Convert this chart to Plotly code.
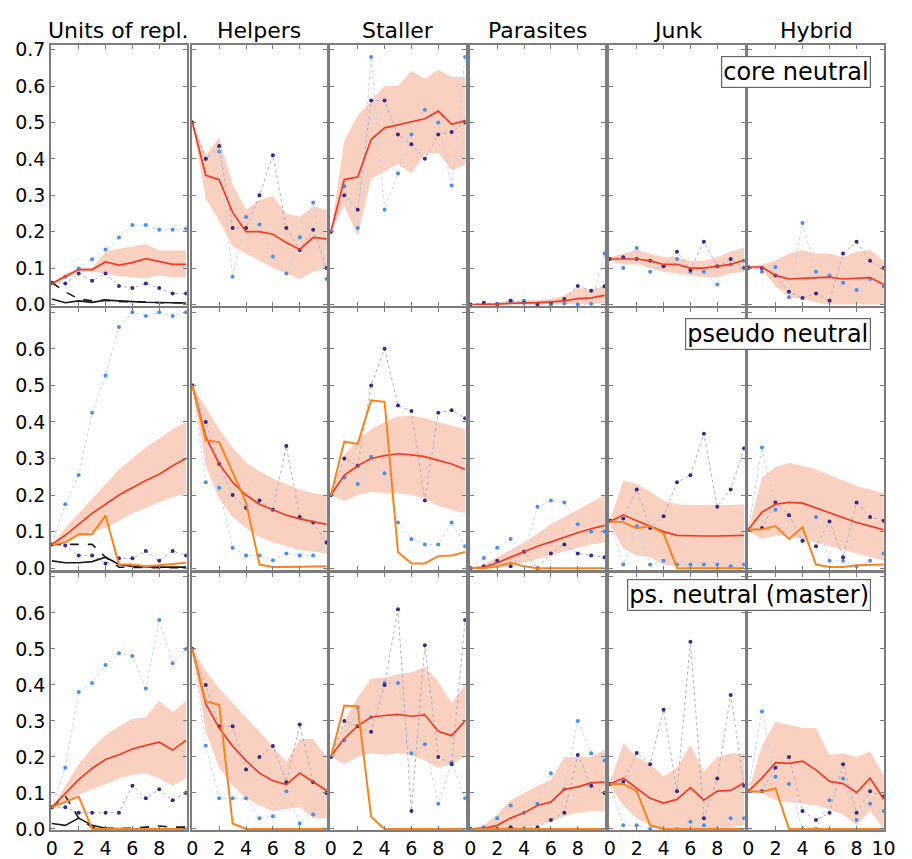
import plotly.graph_objects as go

X = list(range(11))
COLUMNS = ["Units of repl.", "Helpers", "Staller", "Parasites", "Junk", "Hybrid"]
ROW_LABELS = ["core neutral", "pseudo neutral", "ps. neutral (master)"]
Y_TICKS = [0.0, 0.1, 0.2, 0.3, 0.4, 0.5, 0.6, 0.7]
X_TICKS = [0, 2, 4, 6, 8, 10]

# ---------------- row 1: core neutral ----------------
CORE_MEAN = [
    [0.058, 0.076, 0.096, 0.096, 0.117, 0.108, 0.115, 0.126, 0.118, 0.11, 0.11],
    [0.5, 0.355, 0.343, 0.253, 0.2, 0.2, 0.193, 0.17, 0.151, 0.184, 0.18],
    [0.2, 0.343, 0.35, 0.453, 0.485, 0.494, 0.503, 0.51, 0.531, 0.495, 0.505],
    [0, 0, 0.001, 0.003, 0.003, 0.005, 0.007, 0.01, 0.016, 0.018, 0.025],
    [0.125, 0.125, 0.125, 0.12, 0.11, 0.11, 0.1, 0.1, 0.105, 0.11, 0.122],
    [0.103, 0.103, 0.08, 0.07, 0.072, 0.073, 0.075, 0.07, 0.073, 0.074, 0.055],
]
CORE_HI = [
    [0.06, 0.085, 0.1, 0.1, 0.144, 0.153, 0.159, 0.166, 0.148, 0.148, 0.148],
    [0.5, 0.41, 0.458, 0.33, 0.26, 0.287, 0.298, 0.25, 0.24, 0.27, 0.26],
    [0.2, 0.45, 0.52, 0.56, 0.6, 0.6, 0.642, 0.62, 0.645, 0.625, 0.625],
    [0, 0.003, 0.005, 0.01, 0.01, 0.012, 0.015, 0.025, 0.045, 0.04, 0.05],
    [0.13, 0.14, 0.15, 0.14, 0.13, 0.13, 0.12, 0.12, 0.13, 0.145, 0.157],
    [0.105, 0.11, 0.12, 0.14, 0.15, 0.14, 0.14, 0.13, 0.145, 0.15, 0.12],
]
CORE_LO = [
    [0.055, 0.07, 0.09, 0.09, 0.085, 0.078, 0.075, 0.072, 0.08, 0.075, 0.074],
    [0.5, 0.29, 0.23, 0.16, 0.14, 0.12, 0.1, 0.085, 0.07, 0.09, 0.1],
    [0.2, 0.27, 0.188, 0.345, 0.365, 0.386, 0.36, 0.413, 0.417, 0.368, 0.384],
    [0, 0, 0, 0, 0, 0, 0, 0, 0.002, 0, 0.005],
    [0.12, 0.11, 0.11, 0.1, 0.09, 0.085, 0.08, 0.075, 0.075, 0.085, 0.09],
    [0.1, 0.095, 0.05, 0.02, 0.015, 0.005, 0, 0, 0, 0, 0],
]
CORE_LIGHT = [
    [0.06, 0.076, 0.099, 0.124, 0.151, 0.184, 0.218, 0.218, 0.205, 0.205, 0.208],
    [0.5, 0.4, 0.42, 0.076, 0.24, 0.22, 0.132, 0.085, 0.185, 0.28, 0.07],
    [0.2, 0.325, 0.21, 0.68, 0.26, 0.36, 0.467, 0.535, 0.5, 0.327, 0.68],
    [0, 0.003, 0.002, 0.01, 0.01, 0.003, 0, 0.003, 0, 0.002, 0.14],
    [0.125, 0.1, 0.155, 0.09, 0.105, 0.125, 0.09, 0.09, 0.055, 0.11, 0.12],
    [0.103, 0.09, 0.103, 0.02, 0.224, 0.09, 0.08, 0.06, 0.04, 0.07, 0.05],
]
CORE_DARK = [
    [0.06, 0.058, 0.085, 0.065, 0.085, 0.051, 0.045, 0.058, 0.045, 0.03, 0.03],
    [0.5, 0.4, 0.435, 0.21, 0.21, 0.3, 0.41, 0.21, 0.15, 0.205, 0.1],
    [0.2, 0.3, 0.26, 0.56, 0.56, 0.467, 0.44, 0.4, 0.467, 0.474, 0.5],
    [0, 0.005, 0, 0.01, 0.005, 0, 0.005, 0.015, 0.051, 0.038, 0.05],
    [0.125, 0.13, 0.125, 0.12, 0.105, 0.145, 0.095, 0.172, 0.105, 0.125, 0.1],
    [0.1, 0.1, 0.08, 0.035, 0.018, 0.03, 0.01, 0.14, 0.172, 0.12, 0.1],
]
CORE_ORANGE = None
CORE_BLACK_SOLID = [0.015, 0.005, 0.01, 0.006, 0.012, 0.009, 0.008, 0.006, 0.005, 0.004, 0.004]
CORE_BLACK_DASH = [0.06, 0.035, 0.015, 0.01, 0.012, 0.008, 0.008, 0.006, 0.005, 0.005, 0.005]

# ---------------- row 2: pseudo neutral ----------------
PSEUDO_MEAN = [
    [0.065, 0.09, 0.12, 0.15, 0.175, 0.2, 0.22, 0.24, 0.257, 0.28, 0.3],
    [0.5, 0.36, 0.285, 0.235, 0.2, 0.175, 0.16, 0.145, 0.135, 0.127, 0.12],
    [0.2, 0.254, 0.28, 0.3, 0.308, 0.313, 0.31, 0.305, 0.295, 0.285, 0.27],
    [0, 0.002, 0.015, 0.03, 0.045, 0.06, 0.072, 0.085, 0.097, 0.108, 0.117],
    [0.128, 0.146, 0.13, 0.115, 0.1, 0.09, 0.088, 0.088, 0.088, 0.088, 0.09],
    [0.106, 0.153, 0.175, 0.18, 0.178, 0.165, 0.15, 0.138, 0.125, 0.115, 0.105],
]
PSEUDO_HI = [
    [0.065, 0.11, 0.15, 0.19, 0.23, 0.27, 0.3, 0.33, 0.355, 0.38, 0.4],
    [0.5, 0.44, 0.38, 0.33, 0.29, 0.265, 0.245, 0.23, 0.215, 0.205, 0.2],
    [0.2, 0.31, 0.35, 0.38, 0.4, 0.415, 0.417, 0.41, 0.4, 0.39, 0.38],
    [0, 0.01, 0.03, 0.05, 0.07, 0.095, 0.12, 0.14, 0.16, 0.18, 0.2],
    [0.13, 0.24, 0.23, 0.21, 0.185, 0.175, 0.172, 0.172, 0.172, 0.173, 0.175],
    [0.105, 0.248, 0.277, 0.288, 0.28, 0.27, 0.255, 0.24, 0.225, 0.215, 0.205],
]
PSEUDO_LO = [
    [0.065, 0.07, 0.085, 0.1, 0.11, 0.13, 0.15, 0.165, 0.18, 0.195, 0.205],
    [0.5, 0.28, 0.19, 0.14, 0.11, 0.085, 0.07, 0.06, 0.05, 0.045, 0.04],
    [0.2, 0.184, 0.2, 0.21, 0.205, 0.205, 0.2, 0.19, 0.17, 0.16, 0.15],
    [0, 0, 0, 0.005, 0.015, 0.025, 0.035, 0.045, 0.055, 0.065, 0.07],
    [0.12, 0.053, 0.035, 0.03, 0.01, 0.005, 0, 0, 0, 0, 0],
    [0.1, 0.08, 0.09, 0.085, 0.08, 0.07, 0.06, 0.05, 0.04, 0.03, 0.02],
]
PSEUDO_LIGHT = [
    [0.065, 0.175, 0.255, 0.425, 0.527, 0.66, 0.7, 0.69, 0.7, 0.69, 0.7],
    [0.5, 0.235, 0.22, 0.056, 0.035, 0.035, 0.022, 0.04, 0.035, 0.035, 0.07],
    [0.2, 0.248, 0.23, 0.305, 0.26, 0.125, 0.08, 0.065, 0.065, 0.125, 0.06],
    [0, 0.028, 0.056, 0.08, 0.045, 0.168, 0.185, 0.18, 0.12, 0.1, 0.1],
    [0.13, 0.01, 0.115, 0.01, 0.02, 0.01, 0.01, 0.01, 0.01, 0.005, 0.01],
    [0.105, 0.33, 0.16, 0.145, 0.075, 0.14, 0.02, 0.02, 0.005, 0.02, 0.04],
]
PSEUDO_DARK = [
    [0.065, 0.062, 0.035, 0.035, 0.013, 0.027, 0.027, 0.047, 0.02, 0.047, 0.035],
    [0.5, 0.4, 0.285, 0.2, 0.165, 0.185, 0.16, 0.334, 0.14, 0.125, 0.07],
    [0.2, 0.3, 0.28, 0.5, 0.6, 0.445, 0.43, 0.185, 0.425, 0.432, 0.41],
    [0, 0.005, 0.02, 0.005, 0.045, 0, 0.04, 0.065, 0.04, 0.035, 0.03],
    [0.13, 0.136, 0.215, 0.11, 0.142, 0.235, 0.254, 0.368, 0.168, 0.215, 0.328],
    [0.105, 0.11, 0.18, 0.145, 0.075, 0.06, 0.128, 0.03, 0.18, 0.14, 0.13],
]
PSEUDO_ORANGE = [
    [0.065, 0.07, 0.093, 0.093, 0.144, 0.01, 0.01, 0.005, 0.008, 0.012, 0.015],
    [0.5, 0.35, 0.345, 0.26, 0.18, 0.01, 0.003, 0.003, 0.003, 0.003, 0.005],
    [0.2, 0.346, 0.34, 0.459, 0.455, 0.044, 0.013, 0.013, 0.033, 0.035, 0.044],
    [0, 0, 0.005, 0.015, 0.005, 0, 0, 0, 0, 0, 0],
    [0.128, 0.126, 0.109, 0.115, 0.095, 0, 0, 0, 0, 0, 0],
    [0.106, 0.106, 0.115, 0.08, 0.112, 0.01, 0.003, 0.003, 0.008, 0.01, 0.01],
]
PSEUDO_BLACK_SOLID = [0.02, 0.015, 0.015, 0.018, 0.03, 0.01, 0.005, 0.003, 0.003, 0.003, 0.003]
PSEUDO_BLACK_DASH = [0.065, 0.065, 0.065, 0.065, 0.03, 0.003, 0.002, 0.001, 0.001, 0.001, 0.001]

# ---------------- row 3: ps. neutral (master) ----------------
MASTER_MEAN = [
    [0.06, 0.1, 0.137, 0.168, 0.193, 0.206, 0.222, 0.232, 0.241, 0.219, 0.246],
    [0.5, 0.347, 0.28, 0.23, 0.19, 0.155, 0.134, 0.123, 0.155, 0.132, 0.107],
    [0.202, 0.251, 0.286, 0.311, 0.315, 0.318, 0.313, 0.317, 0.271, 0.259, 0.3],
    [0, 0.002, 0.01, 0.03, 0.045, 0.065, 0.075, 0.11, 0.117, 0.128, 0.13],
    [0.125, 0.141, 0.113, 0.085, 0.072, 0.082, 0.115, 0.08, 0.105, 0.107, 0.128],
    [0.105, 0.141, 0.184, 0.182, 0.188, 0.164, 0.132, 0.126, 0.101, 0.141, 0.083],
]
MASTER_HI = [
    [0.06, 0.12, 0.18, 0.225, 0.26, 0.285, 0.305, 0.31, 0.356, 0.325, 0.355],
    [0.5, 0.44, 0.39, 0.35, 0.31, 0.27, 0.23, 0.185, 0.25, 0.25, 0.2],
    [0.2, 0.3, 0.365, 0.418, 0.42, 0.43, 0.435, 0.45, 0.41, 0.35, 0.4],
    [0, 0.01, 0.04, 0.08, 0.1, 0.12, 0.135, 0.2, 0.2, 0.2, 0.22],
    [0.13, 0.238, 0.2, 0.18, 0.146, 0.17, 0.233, 0.16, 0.2, 0.21, 0.21],
    [0.105, 0.23, 0.298, 0.29, 0.28, 0.28, 0.205, 0.21, 0.2, 0.215, 0.15],
]
MASTER_LO = [
    [0.06, 0.075, 0.095, 0.11, 0.125, 0.14, 0.15, 0.155, 0.14, 0.12, 0.14],
    [0.5, 0.27, 0.17, 0.12, 0.085, 0.065, 0.05, 0.055, 0.06, 0.03, 0.03],
    [0.2, 0.18, 0.2, 0.21, 0.205, 0.21, 0.205, 0.19, 0.17, 0.18, 0.2],
    [0, 0, 0, 0, 0, 0.01, 0.02, 0.035, 0.045, 0.05, 0.05],
    [0.12, 0.065, 0.03, 0.01, 0.005, 0.005, 0, 0, 0, 0.005, 0.01],
    [0.1, 0.1, 0.08, 0.075, 0.07, 0.065, 0.055, 0.04, 0.01, 0.05, 0],
]
MASTER_LIGHT = [
    [0.06, 0.17, 0.38, 0.405, 0.455, 0.488, 0.48, 0.39, 0.58, 0.46, 0.5],
    [0.5, 0.231, 0.085, 0.085, 0.085, 0.03, 0.035, 0.105, 0.015, 0.04, 0.1],
    [0.2, 0.246, 0.338, 0.31, 0.405, 0.405, 0.21, 0.235, 0.07, 0.185, 0.085],
    [0, 0.005, 0.03, 0.065, 0.045, 0.07, 0.155, 0.11, 0.3, 0.21, 0.19],
    [0.125, 0.01, 0.01, 0, 0, 0, 0.02, 0.01, 0, 0.03, 0.03],
    [0.105, 0.326, 0.145, 0.125, 0, 0, 0.08, 0.14, 0.025, 0.07, 0.05],
]
MASTER_DARK = [
    [0.06, 0.06, 0.045, 0.045, 0.045, 0.045, 0.12, 0.085, 0.11, 0.08, 0.1],
    [0.5, 0.4, 0.285, 0.285, 0.165, 0.2, 0.23, 0.13, 0.29, 0.13, 0.1],
    [0.2, 0.3, 0.285, 0.27, 0.4, 0.61, 0.05, 0.51, 0.2, 0.18, 0.58],
    [0, 0, 0, 0.005, 0, 0.005, 0.025, 0.045, 0.205, 0.12, 0.1],
    [0.125, 0.131, 0.211, 0.18, 0.331, 0.105, 0.52, 0.03, 0.14, 0.372, 0.12],
    [0.105, 0.105, 0.17, 0.2, 0.05, 0.025, 0.045, 0.18, 0.045, 0.105, 0.09],
]
MASTER_ORANGE = [
    [0.06, 0.075, 0.09, 0, 0, 0, 0, 0, 0, 0, 0],
    [0.5, 0.354, 0.345, 0.015, 0, 0, 0, 0, 0, 0, 0],
    [0.2, 0.343, 0.34, 0.034, 0, 0, 0, 0, 0, 0, 0],
    [0, 0, 0, 0, 0, 0, 0, 0, 0, 0, 0],
    [0.125, 0.125, 0.105, 0.01, 0, 0, 0, 0, 0, 0, 0],
    [0.105, 0.103, 0.113, 0, 0, 0, 0, 0, 0, 0, 0],
]
MASTER_BLACK_SOLID = [0.015, 0.01, 0.03, 0.01, 0.002, 0, 0, 0, 0, 0, 0]
MASTER_BLACK_DASH = [0.06, 0.092, 0.03, 0.005, 0.002, 0.002, 0.002, 0.005, 0.008, 0.005, 0.005]

ROWS = [
    (CORE_MEAN, CORE_HI, CORE_LO, CORE_LIGHT, CORE_DARK, CORE_ORANGE, CORE_BLACK_SOLID, CORE_BLACK_DASH),
    (PSEUDO_MEAN, PSEUDO_HI, PSEUDO_LO, PSEUDO_LIGHT, PSEUDO_DARK, PSEUDO_ORANGE, PSEUDO_BLACK_SOLID, PSEUDO_BLACK_DASH),
    (MASTER_MEAN, MASTER_HI, MASTER_LO, MASTER_LIGHT, MASTER_DARK, MASTER_ORANGE, MASTER_BLACK_SOLID, MASTER_BLACK_DASH),
]

# ---------------- layout geometry (pixels) ----------------
W, H = 912, 859
COL_PX = [(47, 185), (190, 328), (331, 469), (473, 611), (615, 753), (756, 895)]
ROW_PX = [(39, 305), (307, 574), (577, 840)]
FONT = "DejaVu Sans"
RED = "#ee3d24"
BAND = "#fad0c0"
ORANGE = "#f7841f"
LIGHT = "#4d8fe0"
LIGHT_LINE = "#bdd5f2"
DARK = "#3a2a84"
DARK_LINE = "#aeacc8"
FRAME = "#7d7d7d"

fig = go.Figure()
layout = {}

for r in range(3):
    mean, hi, lo, light, dark, orange, bsolid, bdash = ROWS[r]
    for c in range(6):
        n = r * 6 + c + 1
        xa = "x" if n == 1 else f"x{n}"
        ya = "y" if n == 1 else f"y{n}"
        fig.add_trace(go.Scatter(x=X + X[::-1], y=hi[c] + lo[c][::-1], fill="toself",
                                 fillcolor=BAND, line=dict(width=0), mode="lines",
                                 hoverinfo="skip", showlegend=False, xaxis=xa, yaxis=ya))
        fig.add_trace(go.Scatter(x=X, y=light[c], mode="lines+markers",
                                 line=dict(color=LIGHT_LINE, width=1, dash="dot"),
                                 marker=dict(color=LIGHT, size=4), showlegend=False,
                                 xaxis=xa, yaxis=ya))
        fig.add_trace(go.Scatter(x=X, y=dark[c], mode="lines+markers",
                                 line=dict(color=DARK_LINE, width=1, dash="dot"),
                                 marker=dict(color=DARK, size=4), showlegend=False,
                                 xaxis=xa, yaxis=ya))
        if c == 0:
            fig.add_trace(go.Scatter(x=X, y=bsolid, mode="lines",
                                     line=dict(color="#1a1a1a", width=1.6),
                                     showlegend=False, xaxis=xa, yaxis=ya))
            fig.add_trace(go.Scatter(x=X, y=bdash, mode="lines",
                                     line=dict(color="#1a1a1a", width=1.6, dash="dash"),
                                     showlegend=False, xaxis=xa, yaxis=ya))
        fig.add_trace(go.Scatter(x=X, y=mean[c], mode="lines",
                                 line=dict(color=RED, width=1.7),
                                 showlegend=False, xaxis=xa, yaxis=ya))
        if orange is not None:
            fig.add_trace(go.Scatter(x=X, y=orange[c], mode="lines",
                                     line=dict(color=ORANGE, width=2),
                                     showlegend=False, xaxis=xa, yaxis=ya))

        x0, x1 = COL_PX[c]
        y0, y1 = ROW_PX[r]
        common = dict(showline=True, mirror="ticks", linecolor=FRAME, linewidth=2,
                      ticks="inside", ticklen=4, tickcolor=FRAME, tickwidth=1,
                      showgrid=False, zeroline=False,
                      tickfont=dict(family=FONT, size=19, color="black"))
        xtext = [str(v) for v in X_TICKS]
        if c < 5:
            xtext[-1] = ""
        layout["xaxis" if n == 1 else f"xaxis{n}"] = dict(
            common, domain=[x0 / W, x1 / W], range=[-0.05, 10.05], anchor=ya,
            tickvals=X_TICKS, ticktext=xtext, showticklabels=(r == 2))
        ytext = [f"{v:.1f}" for v in Y_TICKS]
        if r > 0:
            ytext[-1] = ""
        layout["yaxis" if n == 1 else f"yaxis{n}"] = dict(
            common, domain=[1 - y1 / H, 1 - y0 / H], range=[-0.004, 0.712],
            anchor=xa, tickvals=Y_TICKS, ticktext=ytext, showticklabels=(c == 0))

annotations = []
for c, name in enumerate(COLUMNS):
    x0, x1 = COL_PX[c]
    annotations.append(dict(text=name, x=(x0 + x1) / 2 / W, y=1 - 24 / H, xref="paper", yref="paper",
                            xanchor="center", yanchor="middle", showarrow=False,
                            font=dict(family=FONT, size=22, color="black")))
BOX_Y = [66, 334, 600]
for r, label in enumerate(ROW_LABELS):
    annotations.append(dict(text=label, x=881 / W, y=1 - BOX_Y[r] / H, xref="paper", yref="paper",
                            xanchor="right", yanchor="middle", showarrow=False,
                            bgcolor="white", bordercolor="#666666", borderwidth=1.2, borderpad=1,
                            font=dict(family=FONT, size=24, color="black")))

fig.update_layout(**layout)
fig.update_layout(width=W, height=H, margin=dict(l=0, r=0, t=0, b=0),
                  paper_bgcolor="white", plot_bgcolor="white",
                  annotations=annotations, showlegend=False)
fig.write_html("out.html")
